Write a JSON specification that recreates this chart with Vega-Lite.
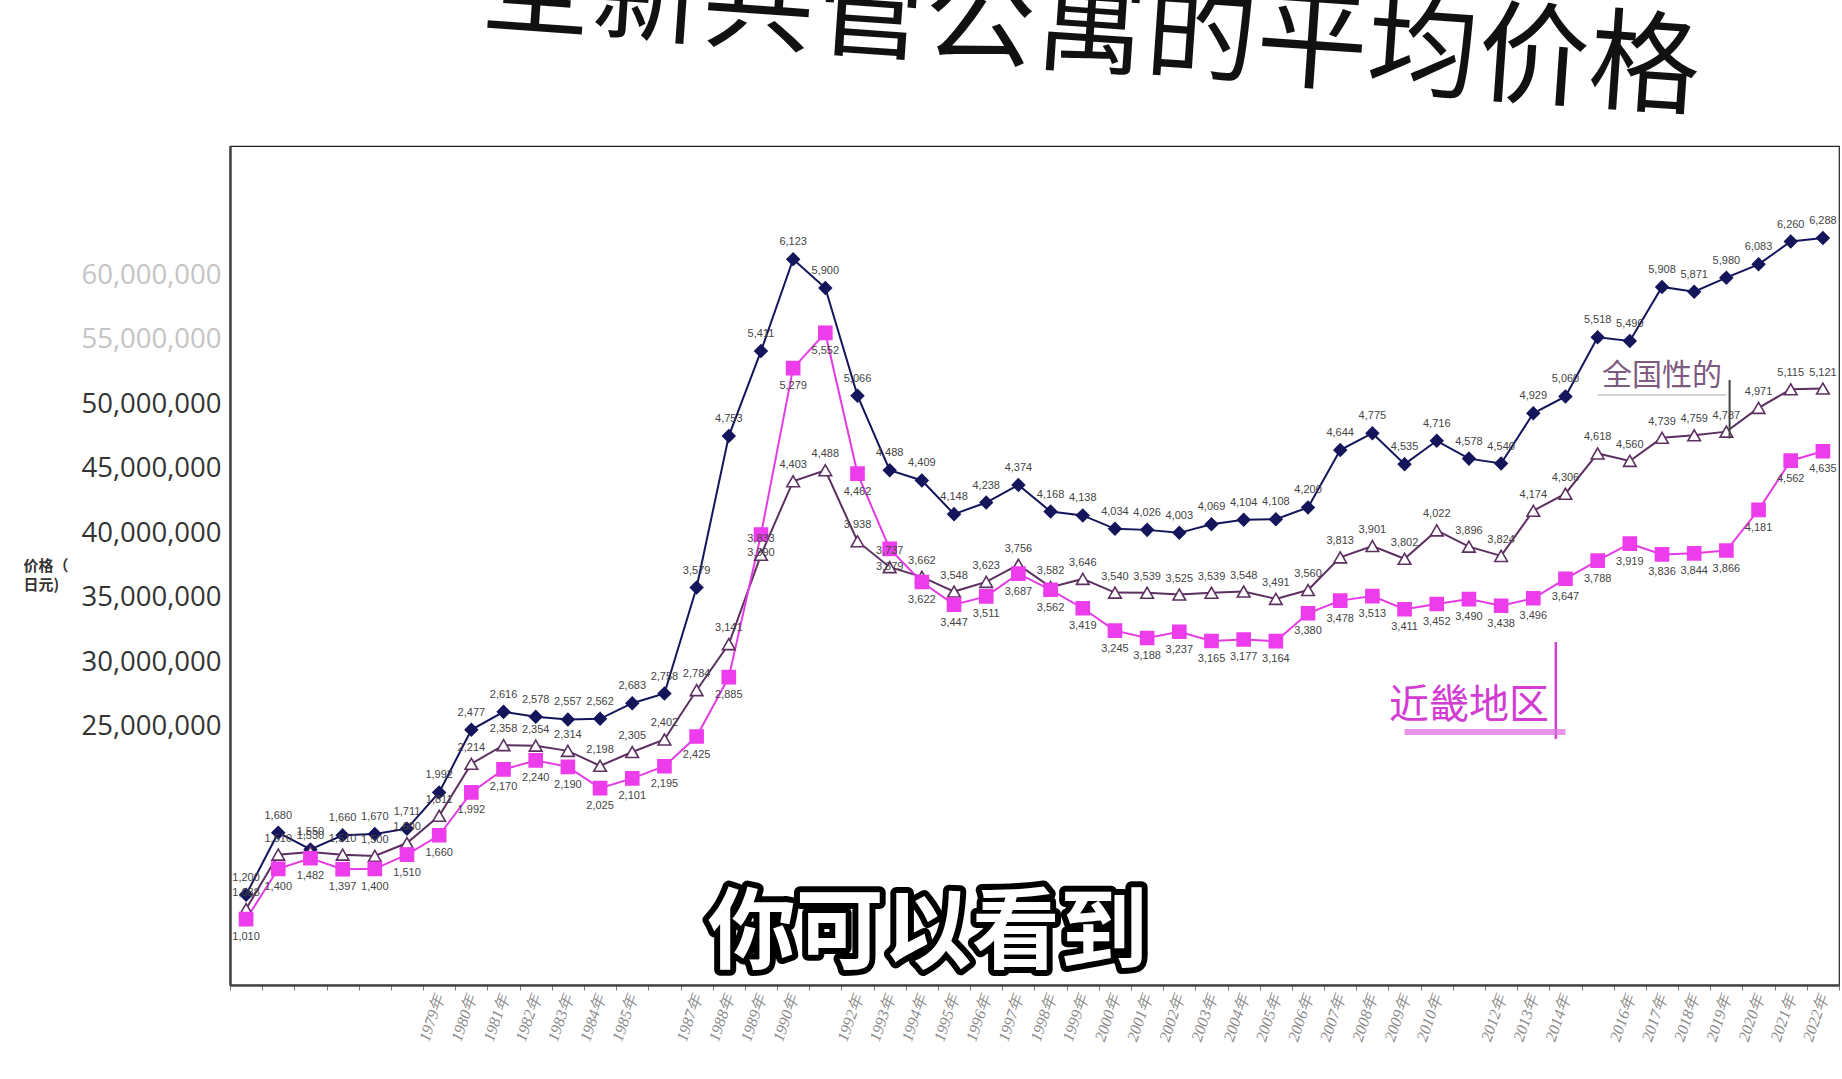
{
  "$schema": "https://vega.github.io/schema/vega-lite/v6.json",
  "width": 1609,
  "height": 839,
  "autosize": {"type": "none"},
  "padding": {"left": 230, "top": 146, "right": 3, "bottom": 94},
  "background": "white",
  "config": {"view": {"stroke": "#222", "strokeWidth": 1.2}, "font": "Noto Sans CJK SC"},
  "title": {"text": "全新共管公寓的平均价格", "fontSize": 111, "anchor": "middle", "dx": 60, "offset": -22, "angle": 4, "font": "Noto Sans CJK SC", "fontWeight": "normal", "color": "#111"},
  "datasets": {
    "prices": [
      {"year": 1973, "series": "首都圈", "price": 1200}, {"year": 1974, "series": "首都圈", "price": 1680}, {"year": 1975, "series": "首都圈", "price": 1550}, {"year": 1976, "series": "首都圈", "price": 1660}, {"year": 1977, "series": "首都圈", "price": 1670}, {"year": 1978, "series": "首都圈", "price": 1711}, {"year": 1979, "series": "首都圈", "price": 1992}, {"year": 1980, "series": "首都圈", "price": 2477}, {"year": 1981, "series": "首都圈", "price": 2616}, {"year": 1982, "series": "首都圈", "price": 2578}, {"year": 1983, "series": "首都圈", "price": 2557}, {"year": 1984, "series": "首都圈", "price": 2562}, {"year": 1985, "series": "首都圈", "price": 2683}, {"year": 1986, "series": "首都圈", "price": 2758}, {"year": 1987, "series": "首都圈", "price": 3579}, {"year": 1988, "series": "首都圈", "price": 4753}, {"year": 1989, "series": "首都圈", "price": 5411}, {"year": 1990, "series": "首都圈", "price": 6123}, {"year": 1991, "series": "首都圈", "price": 5900}, {"year": 1992, "series": "首都圈", "price": 5066}, {"year": 1993, "series": "首都圈", "price": 4488}, {"year": 1994, "series": "首都圈", "price": 4409}, {"year": 1995, "series": "首都圈", "price": 4148}, {"year": 1996, "series": "首都圈", "price": 4238}, {"year": 1997, "series": "首都圈", "price": 4374}, {"year": 1998, "series": "首都圈", "price": 4168}, {"year": 1999, "series": "首都圈", "price": 4138}, {"year": 2000, "series": "首都圈", "price": 4034}, {"year": 2001, "series": "首都圈", "price": 4026}, {"year": 2002, "series": "首都圈", "price": 4003}, {"year": 2003, "series": "首都圈", "price": 4069}, {"year": 2004, "series": "首都圈", "price": 4104}, {"year": 2005, "series": "首都圈", "price": 4108}, {"year": 2006, "series": "首都圈", "price": 4200}, {"year": 2007, "series": "首都圈", "price": 4644}, {"year": 2008, "series": "首都圈", "price": 4775}, {"year": 2009, "series": "首都圈", "price": 4535}, {"year": 2010, "series": "首都圈", "price": 4716}, {"year": 2011, "series": "首都圈", "price": 4578}, {"year": 2012, "series": "首都圈", "price": 4540}, {"year": 2013, "series": "首都圈", "price": 4929}, {"year": 2014, "series": "首都圈", "price": 5060}, {"year": 2015, "series": "首都圈", "price": 5518}, {"year": 2016, "series": "首都圈", "price": 5490}, {"year": 2017, "series": "首都圈", "price": 5908}, {"year": 2018, "series": "首都圈", "price": 5871}, {"year": 2019, "series": "首都圈", "price": 5980}, {"year": 2020, "series": "首都圈", "price": 6083}, {"year": 2021, "series": "首都圈", "price": 6260}, {"year": 2022, "series": "首都圈", "price": 6288},
      {"year": 1973, "series": "全国", "price": 1088}, {"year": 1974, "series": "全国", "price": 1510}, {"year": 1975, "series": "全国", "price": 1530}, {"year": 1976, "series": "全国", "price": 1510}, {"year": 1977, "series": "全国", "price": 1500}, {"year": 1978, "series": "全国", "price": 1600}, {"year": 1979, "series": "全国", "price": 1811}, {"year": 1980, "series": "全国", "price": 2214}, {"year": 1981, "series": "全国", "price": 2358}, {"year": 1982, "series": "全国", "price": 2354}, {"year": 1983, "series": "全国", "price": 2314}, {"year": 1984, "series": "全国", "price": 2198}, {"year": 1985, "series": "全国", "price": 2305}, {"year": 1986, "series": "全国", "price": 2402}, {"year": 1987, "series": "全国", "price": 2784}, {"year": 1988, "series": "全国", "price": 3141}, {"year": 1989, "series": "全国", "price": 3833}, {"year": 1990, "series": "全国", "price": 4403}, {"year": 1991, "series": "全国", "price": 4488}, {"year": 1992, "series": "全国", "price": 3938}, {"year": 1993, "series": "全国", "price": 3737}, {"year": 1994, "series": "全国", "price": 3662}, {"year": 1995, "series": "全国", "price": 3548}, {"year": 1996, "series": "全国", "price": 3623}, {"year": 1997, "series": "全国", "price": 3756}, {"year": 1998, "series": "全国", "price": 3582}, {"year": 1999, "series": "全国", "price": 3646}, {"year": 2000, "series": "全国", "price": 3540}, {"year": 2001, "series": "全国", "price": 3539}, {"year": 2002, "series": "全国", "price": 3525}, {"year": 2003, "series": "全国", "price": 3539}, {"year": 2004, "series": "全国", "price": 3548}, {"year": 2005, "series": "全国", "price": 3491}, {"year": 2006, "series": "全国", "price": 3560}, {"year": 2007, "series": "全国", "price": 3813}, {"year": 2008, "series": "全国", "price": 3901}, {"year": 2009, "series": "全国", "price": 3802}, {"year": 2010, "series": "全国", "price": 4022}, {"year": 2011, "series": "全国", "price": 3896}, {"year": 2012, "series": "全国", "price": 3824}, {"year": 2013, "series": "全国", "price": 4174}, {"year": 2014, "series": "全国", "price": 4306}, {"year": 2015, "series": "全国", "price": 4618}, {"year": 2016, "series": "全国", "price": 4560}, {"year": 2017, "series": "全国", "price": 4739}, {"year": 2018, "series": "全国", "price": 4759}, {"year": 2019, "series": "全国", "price": 4787}, {"year": 2020, "series": "全国", "price": 4971}, {"year": 2021, "series": "全国", "price": 5115}, {"year": 2022, "series": "全国", "price": 5121},
      {"year": 1973, "series": "近畿地区", "price": 1010}, {"year": 1974, "series": "近畿地区", "price": 1400}, {"year": 1975, "series": "近畿地区", "price": 1482}, {"year": 1976, "series": "近畿地区", "price": 1397}, {"year": 1977, "series": "近畿地区", "price": 1400}, {"year": 1978, "series": "近畿地区", "price": 1510}, {"year": 1979, "series": "近畿地区", "price": 1660}, {"year": 1980, "series": "近畿地区", "price": 1992}, {"year": 1981, "series": "近畿地区", "price": 2170}, {"year": 1982, "series": "近畿地区", "price": 2240}, {"year": 1983, "series": "近畿地区", "price": 2190}, {"year": 1984, "series": "近畿地区", "price": 2025}, {"year": 1985, "series": "近畿地区", "price": 2101}, {"year": 1986, "series": "近畿地区", "price": 2195}, {"year": 1987, "series": "近畿地区", "price": 2425}, {"year": 1988, "series": "近畿地区", "price": 2885}, {"year": 1989, "series": "近畿地区", "price": 3990}, {"year": 1990, "series": "近畿地区", "price": 5279}, {"year": 1991, "series": "近畿地区", "price": 5552}, {"year": 1992, "series": "近畿地区", "price": 4462}, {"year": 1993, "series": "近畿地区", "price": 3879}, {"year": 1994, "series": "近畿地区", "price": 3622}, {"year": 1995, "series": "近畿地区", "price": 3447}, {"year": 1996, "series": "近畿地区", "price": 3511}, {"year": 1997, "series": "近畿地区", "price": 3687}, {"year": 1998, "series": "近畿地区", "price": 3562}, {"year": 1999, "series": "近畿地区", "price": 3419}, {"year": 2000, "series": "近畿地区", "price": 3245}, {"year": 2001, "series": "近畿地区", "price": 3188}, {"year": 2002, "series": "近畿地区", "price": 3237}, {"year": 2003, "series": "近畿地区", "price": 3165}, {"year": 2004, "series": "近畿地区", "price": 3177}, {"year": 2005, "series": "近畿地区", "price": 3164}, {"year": 2006, "series": "近畿地区", "price": 3380}, {"year": 2007, "series": "近畿地区", "price": 3478}, {"year": 2008, "series": "近畿地区", "price": 3513}, {"year": 2009, "series": "近畿地区", "price": 3411}, {"year": 2010, "series": "近畿地区", "price": 3452}, {"year": 2011, "series": "近畿地区", "price": 3490}, {"year": 2012, "series": "近畿地区", "price": 3438}, {"year": 2013, "series": "近畿地区", "price": 3496}, {"year": 2014, "series": "近畿地区", "price": 3647}, {"year": 2015, "series": "近畿地区", "price": 3788}, {"year": 2016, "series": "近畿地区", "price": 3919}, {"year": 2017, "series": "近畿地区", "price": 3836}, {"year": 2018, "series": "近畿地区", "price": 3844}, {"year": 2019, "series": "近畿地区", "price": 3866}, {"year": 2020, "series": "近畿地区", "price": 4181}, {"year": 2021, "series": "近畿地区", "price": 4562}, {"year": 2022, "series": "近畿地区", "price": 4635}
    ]
  },
  "layer": [
    {
      "data": {"name": "prices"},
      "mark": {"type": "line", "strokeWidth": 2},
      "encoding": {
        "x": {"field": "year", "type": "ordinal", "bandPosition": 0.5,
          "scale": {"type": "band", "paddingInner": 0, "paddingOuter": 0},
          "axis": {"title": null, "labelAngle": -71, "labelFont": "Liberation Serif", "labelFontStyle": "italic", "labelFontSize": 16, "labelColor": "#888", "labelExpr": "isValid(datum.value) && indexof([1973,1974,1975,1976,1977,1978,1986,1991,2011,2015], datum.value) < 0 ? datum.value + '年' : ''", "tickBand": "extent", "tickSize": 5, "tickColor": "#777", "domainColor": "#444", "domainWidth": 2.5, "labelPadding": 5, "labelOverlap": false}},
        "y": {"field": "price", "type": "quantitative",
          "scale": {"domain": [500, 7000], "nice": false, "zero": false},
          "axis": {"title": ["价格（", "日元)"], "titleAngle": 0, "titleX": -207, "titleY": 412, "titleAlign": "left", "titleBaseline": "top", "titleFontSize": 15, "titleFontWeight": "bold", "titleColor": "#333", "titleLineHeight": 19, "values": [2500, 3000, 3500, 4000, 4500, 5000, 5500, 6000], "labelExpr": "format(datum.value * 10000, ',')", "labelFont": "Open Sans", "labelFontSize": 27.5, "labelColor": {"condition": {"test": "datum.value > 5000", "value": "#c4c4c4"}, "value": "#333"}, "ticks": false, "labelPadding": 9, "domainColor": "#444", "domainWidth": 2.5, "grid": false}},
        "color": {"field": "series", "type": "nominal", "legend": null, "scale": {"domain": ["首都圈", "全国", "近畿地区"], "range": ["#15155c", "#5c3060", "#e43ce4"]}},
        "detail": {"field": "series"}
      }
    },
    {
      "data": {"name": "prices"},
      "mark": {"type": "point", "filled": true, "strokeWidth": 1.6, "opacity": 1},
      "encoding": {
        "x": {"field": "year", "type": "ordinal", "bandPosition": 0.5},
        "y": {"field": "price", "type": "quantitative"},
        "shape": {"field": "series", "type": "nominal", "legend": null, "scale": {"domain": ["首都圈", "全国", "近畿地区"], "range": ["diamond", "triangle-up", "square"]}},
        "fill": {"field": "series", "type": "nominal", "legend": null, "scale": {"domain": ["首都圈", "全国", "近畿地区"], "range": ["#15155c", "#ffffff", "#ec3cec"]}},
        "stroke": {"field": "series", "type": "nominal", "legend": null, "scale": {"domain": ["首都圈", "全国", "近畿地区"], "range": ["#15155c", "#5c3060", "#ec3cec"]}},
        "size": {"field": "series", "type": "nominal", "legend": null, "scale": {"domain": ["首都圈", "全国", "近畿地区"], "range": [150, 170, 150]}}
      }
    },
    {
      "data": {"name": "prices"},
      "transform": [{"filter": "datum.series == '首都圈'"}],
      "mark": {"type": "text", "dy": -17, "fontSize": 11, "font": "Liberation Sans", "color": "#444"},
      "encoding": {
        "x": {"field": "year", "type": "ordinal", "bandPosition": 0.5},
        "y": {"field": "price", "type": "quantitative"},
        "text": {"field": "price", "type": "quantitative", "format": ","}
      }
    },
    {
      "data": {"name": "prices"},
      "transform": [{"filter": "datum.series == '全国'"}],
      "mark": {"type": "text", "dy": -16, "fontSize": 11, "font": "Liberation Sans", "color": "#444"},
      "encoding": {
        "x": {"field": "year", "type": "ordinal", "bandPosition": 0.5},
        "y": {"field": "price", "type": "quantitative"},
        "text": {"field": "price", "type": "quantitative", "format": ","}
      }
    },
    {
      "data": {"name": "prices"},
      "transform": [{"filter": "datum.series == '近畿地区'"}],
      "mark": {"type": "text", "dy": 18, "fontSize": 11, "font": "Liberation Sans", "color": "#444"},
      "encoding": {
        "x": {"field": "year", "type": "ordinal", "bandPosition": 0.5},
        "y": {"field": "price", "type": "quantitative"},
        "text": {"field": "price", "type": "quantitative", "format": ","}
      }
    },
    {
      "data": {"values": [{"year": 2014, "price": 3157, "price2": 2406}]},
      "mark": {"type": "rule", "color": "#d040d0", "strokeWidth": 2.5},
      "encoding": {
        "x": {"field": "year", "type": "ordinal", "bandPosition": 0.2},
        "y": {"field": "price", "type": "quantitative"},
        "y2": {"field": "price2"}
      }
    },
    {
      "data": {"values": [{"year": 2019, "price": 5187, "price2": 4734}]},
      "mark": {"type": "rule", "color": "#444", "strokeWidth": 2},
      "encoding": {
        "x": {"field": "year", "type": "ordinal", "bandPosition": 0.6},
        "y": {"field": "price", "type": "quantitative"},
        "y2": {"field": "price2"}
      }
    },
    {
      "data": {"values": [{"year": 2015, "year2": 2019, "price": 5071}]},
      "mark": {"type": "rule", "color": "#aaa", "strokeWidth": 1},
      "encoding": {
        "x": {"field": "year", "type": "ordinal", "bandPosition": 0.5},
        "x2": {"field": "year2"},
        "y": {"field": "price", "type": "quantitative"}
      }
    },
    {
      "data": {"values": [{"year": 2009, "year2": 2014, "price": 2460}]},
      "mark": {"type": "rule", "color": "#e070e0", "strokeWidth": 6, "opacity": 0.75},
      "encoding": {
        "x": {"field": "year", "type": "ordinal", "bandPosition": 0.5},
        "x2": {"field": "year2"},
        "y": {"field": "price", "type": "quantitative"}
      }
    },
    {
      "data": {"values": [{"label": "全国性的", "year": 2017, "price": 5218}]},
      "mark": {"type": "text", "fontSize": 30, "font": "Noto Sans CJK SC", "color": "#7d5a80", "baseline": "middle", "align": "center"},
      "encoding": {
        "x": {"field": "year", "type": "ordinal", "bandPosition": 0.5},
        "y": {"field": "price", "type": "quantitative"},
        "text": {"field": "label"}
      }
    },
    {
      "data": {"values": [{"label": "近畿地区", "year": 2011, "price": 2661}]},
      "mark": {"type": "text", "fontSize": 40, "font": "Noto Sans CJK SC", "color": "#d23cd2", "baseline": "middle", "align": "center"},
      "encoding": {
        "x": {"field": "year", "type": "ordinal", "bandPosition": 0.5},
        "y": {"field": "price", "type": "quantitative"},
        "text": {"field": "label"}
      }
    },
    {
      "data": {"values": [{"label": "你可以看到", "year": 1994, "price": 887}]},
      "mark": {"type": "text", "fontSize": 88, "fontWeight": "bold", "font": "Noto Sans CJK SC", "color": "#000", "stroke": "#000", "strokeWidth": 12, "strokeJoin": "round", "baseline": "middle", "align": "center", "dx": 6},
      "encoding": {
        "x": {"field": "year", "type": "ordinal", "bandPosition": 0.5},
        "y": {"field": "price", "type": "quantitative"},
        "text": {"field": "label"}
      }
    },
    {
      "data": {"values": [{"label": "你可以看到", "year": 1994, "price": 887}]},
      "mark": {"type": "text", "fontSize": 88, "fontWeight": "bold", "font": "Noto Sans CJK SC", "color": "#ffffff", "baseline": "middle", "align": "center", "dx": 6},
      "encoding": {
        "x": {"field": "year", "type": "ordinal", "bandPosition": 0.5},
        "y": {"field": "price", "type": "quantitative"},
        "text": {"field": "label"}
      }
    }
  ]
}
